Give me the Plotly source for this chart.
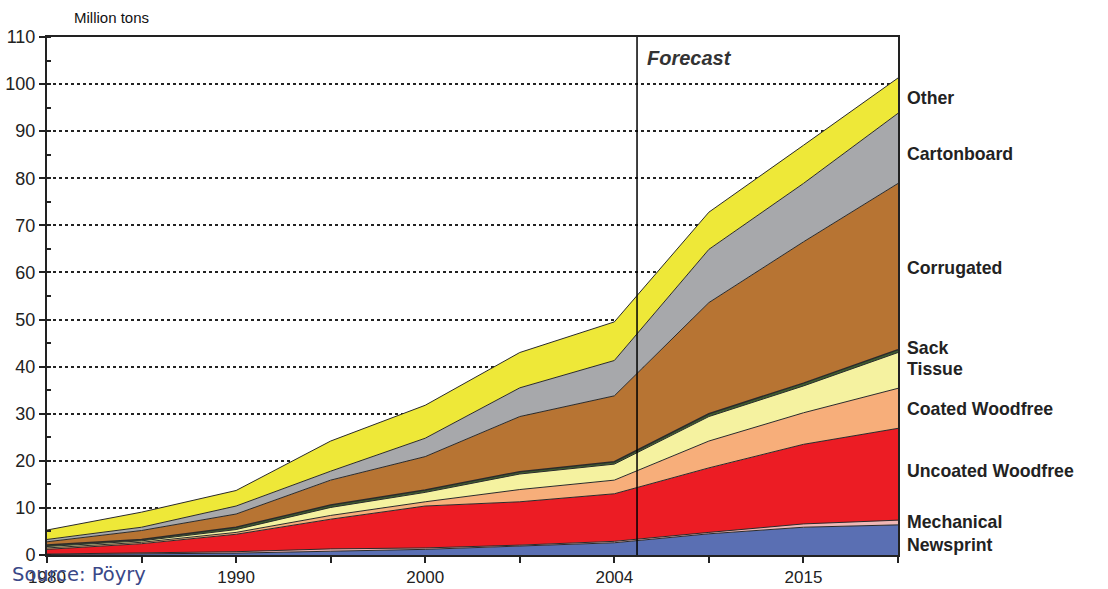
import plotly.graph_objects as go

# Paper and board consumption, million tons
years = ["1980", "1985", "1990", "1995", "2000", "2002", "2004", "2010", "2015", "2020"]
tick_labels = ["1980", "", "1990", "", "2000", "", "2004", "", "2015", ""]

newsprint    = [0.1, 0.2, 0.4, 0.8, 1.2, 1.9, 2.6, 4.5, 5.9, 6.4]
mechanical   = [0.1, 0.2, 0.3, 0.5, 0.3, 0.2, 0.3, 0.3, 0.7, 1.0]
uncoated_wf  = [1.0, 2.0, 3.7, 6.3, 8.9, 9.2, 10.1, 13.7, 16.9, 19.5]
coated_wf    = [0.3, 0.3, 0.4, 0.8, 0.9, 2.6, 2.9, 5.7, 6.7, 8.5]
tissue       = [0.3, 0.3, 0.6, 1.7, 2.0, 3.3, 3.4, 5.2, 5.7, 7.6]
sack         = [0.3, 0.3, 0.5, 0.5, 0.5, 0.5, 0.5, 0.6, 0.6, 0.6]
corrugated   = [0.7, 1.9, 2.8, 5.3, 7.1, 11.7, 14.0, 23.6, 30.0, 35.3]
cartonboard  = [0.5, 0.7, 1.7, 1.9, 3.9, 6.1, 7.5, 11.3, 12.4, 14.9]
other        = [2.0, 3.2, 3.3, 6.4, 7.0, 7.5, 8.2, 7.9, 8.1, 7.5]

series = [
    ("Newsprint", newsprint, "#5a6fb3", 1),
    ("Mechanical", mechanical, "#f0b7b5", 1),
    ("Uncoated Woodfree", uncoated_wf, "#ec1c24", 1),
    ("Coated Woodfree", coated_wf, "#f7ae7a", 1),
    ("Tissue", tissue, "#f5f2a0", 1),
    ("Sack", sack, "#3f5f30", 1.5),
    ("Corrugated", corrugated, "#b77433", 1),
    ("Cartonboard", cartonboard, "#a7a8ab", 1),
    ("Other", other, "#eee838", 1),
]

# Right-hand labels: text and vertical position (million tons)
label_text = ["Other", "Cartonboard", "Corrugated", "Sack", "Tissue",
              "Coated Woodfree", "Uncoated Woodfree", "Mechanical", "Newsprint"]
label_pos = [97.0, 85.1, 60.9, 43.9, 39.6, 31.0, 17.8, 7.0, 2.1]

forecast_x = 6.24

fig = go.Figure()
for name, vals, color, lw in series:
    fig.add_trace(go.Scatter(
        x=years, y=vals, name=name, mode="lines",
        stackgroup="one", fillcolor=color,
        line=dict(color="#2a2a2a", width=lw),
        hoverinfo="skip",
    ))

# Forecast divider
fig.add_shape(type="line", xref="x", yref="y", x0=forecast_x, x1=forecast_x,
              y0=0, y1=110, line=dict(color="black", width=1.5), layer="above")
fig.add_annotation(x=forecast_x, y=105.6, xref="x", yref="y", xanchor="left",
                   xshift=8, text="<b><i>Forecast</i></b>", showarrow=False,
                   font=dict(family="Liberation Sans, Arial", size=20, color="#333"))

for txt, yv in zip(label_text, label_pos):
    fig.add_annotation(x=1.0, y=yv, xref="paper", yref="y", xanchor="left",
                       xshift=7, text=f"<b>{txt}</b>", showarrow=False,
                       font=dict(family="Liberation Sans, Arial", size=17.7, color="#222"))

fig.add_annotation(x=0.029, y=1.037, xref="paper", yref="paper", text="Million tons",
                   showarrow=False, xanchor="left", yanchor="middle",
                   font=dict(family="Liberation Sans Narrow, Arial Narrow, Liberation Sans",
                             size=15, color="#111"))
fig.add_annotation(x=-0.043, y=-0.038, xref="paper", yref="paper", text="Source: Pöyry",
                   showarrow=False, xanchor="left", yanchor="middle",
                   font=dict(family="DejaVu Sans, Verdana", size=19.5, color="#3a4888"))

fig.update_layout(
    width=1108, height=589,
    margin=dict(l=47, r=210, t=37, b=34),
    plot_bgcolor="white", paper_bgcolor="white",
    showlegend=False,
    font=dict(family="Liberation Sans, Arial", color="#222"),
)
fig.update_xaxes(
    type="category", range=[0, 9], automargin=False,
    tickmode="array", tickvals=years, ticktext=tick_labels,
    ticks="outside", ticklen=6, tickwidth=1.5, tickcolor="#222",
    showline=True, linecolor="#222", linewidth=1.5, mirror=True,
    showgrid=False, tickfont=dict(size=17, color="#222"),
)
fig.update_yaxes(
    range=[0, 110], dtick=10, automargin=False,
    ticks="outside", ticklen=6, tickwidth=1.5,
    tickcolor="#222", showline=True, linecolor="#222", linewidth=2, mirror=True,
    showgrid=True, gridcolor="#222", griddash="dot", gridwidth=1.5,
    minor=dict(dtick=5, ticks="inside", ticklen=4, tickcolor="#222", showgrid=False),
    tickfont=dict(size=18, color="#222"), zeroline=False,
)

fig.write_html("out.html")
